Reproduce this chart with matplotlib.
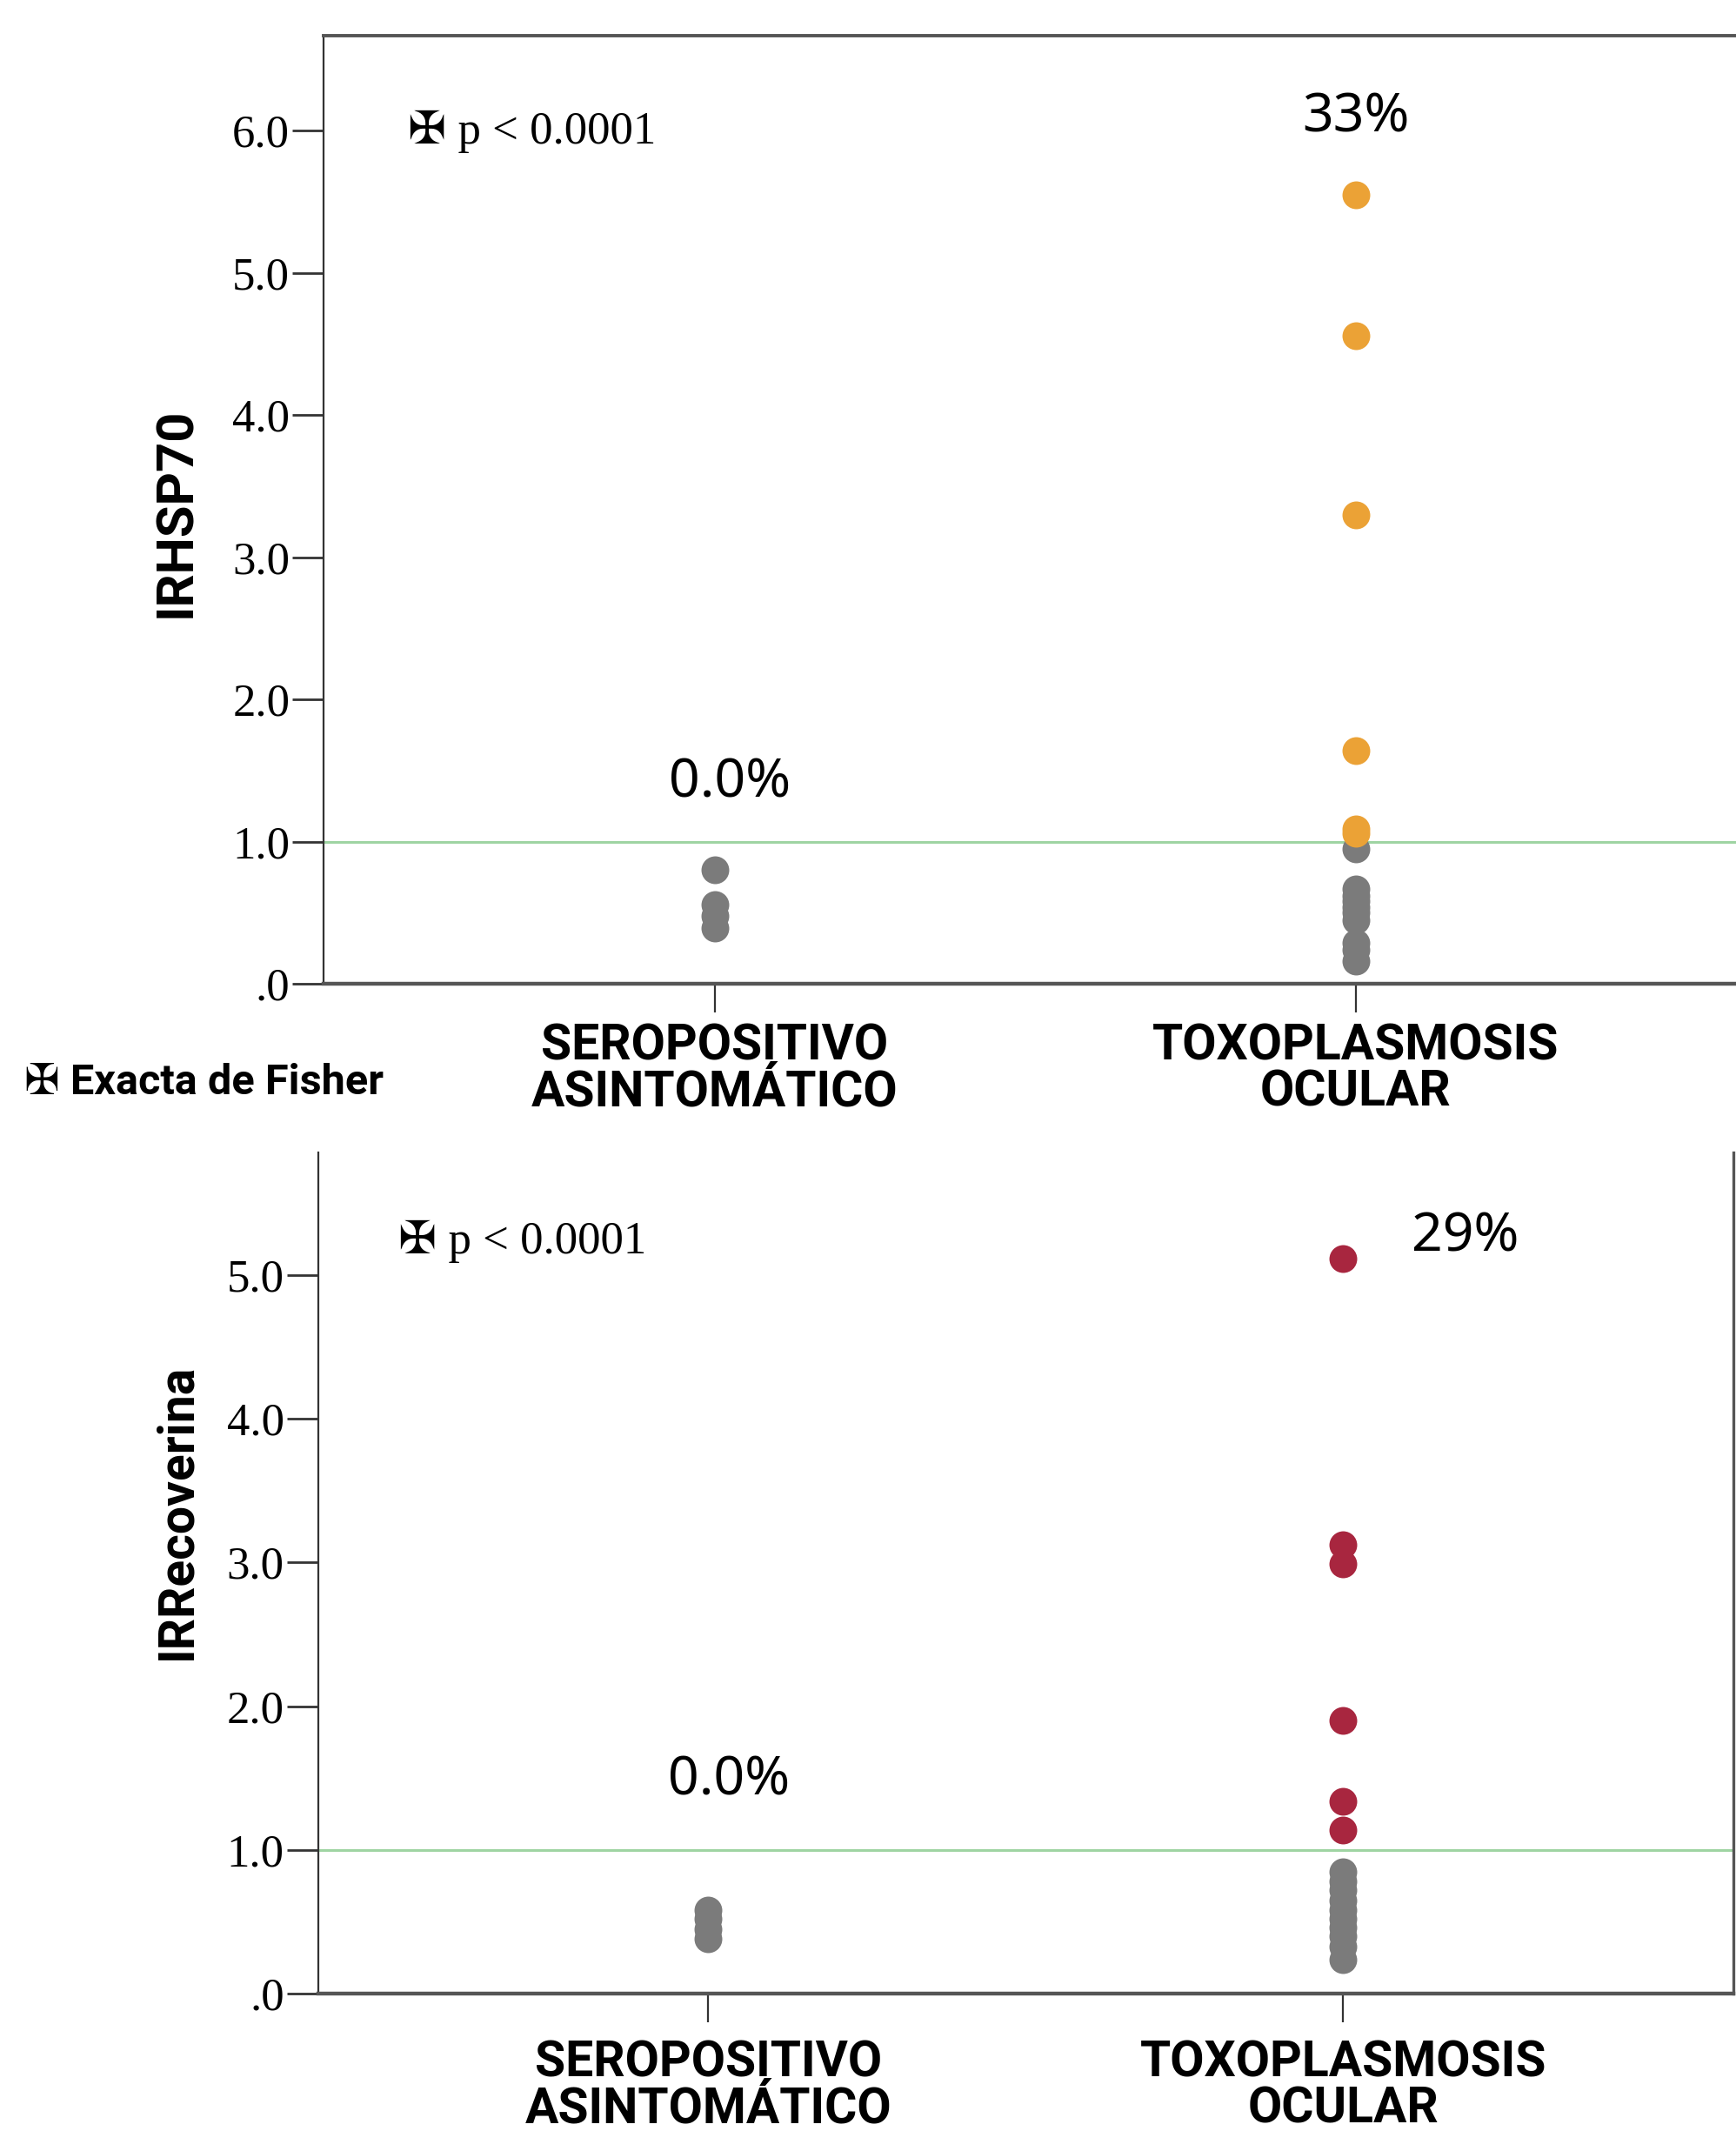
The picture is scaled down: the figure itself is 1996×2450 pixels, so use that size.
import numpy as np
import matplotlib
matplotlib.use("Agg")
import matplotlib.pyplot as plt

# ── data ──────────────────────────────────────────────────────────────────────
CATEGORIES = ["SEROPOSITIVO\nASINTOMÁTICO", "TOXOPLASMOSIS\nOCULAR"]

# IRHSP70
hsp_sero_gray  = [0.80, 0.56, 0.48, 0.39]
hsp_toxo_gray  = [0.95, 0.67, 0.62, 0.58, 0.54, 0.50, 0.45, 0.29, 0.24, 0.16]
hsp_toxo_pos   = [5.55, 4.56, 3.30, 1.64, 1.09, 1.06]
hsp_pct        = ["0.0%", "33%"]

# IRRecoverina
rec_sero_gray  = [0.58, 0.52, 0.45, 0.38]
rec_toxo_gray  = [0.85, 0.78, 0.72, 0.65, 0.58, 0.52, 0.46, 0.40, 0.33, 0.24]
rec_toxo_pos   = [5.11, 3.12, 2.99, 1.90, 1.34, 1.14]
rec_pct        = ["0.0%", "29%"]

Y_TICKS_HSP = [0, 1, 2, 3, 4, 5, 6]
Y_TICKS_REC = [0, 1, 2, 3, 4, 5]
Y_TICKLABELS = [".0", "1.0", "2.0", "3.0", "4.0", "5.0", "6.0"]
CUTOFF = 1.0

GRAY   = "#7b7b7b"
ORANGE = "#eba236"
RED    = "#a8263f"
GREEN  = "#9fd4a3"

SERIF = ["Liberation Serif", "DejaVu Sans"]
BOLD  = ["Roboto", "DejaVu Sans"]
PCT   = ["Noto Sans", "DejaVu Sans"]

# ── layout ────────────────────────────────────────────────────────────────────
fig = plt.figure(figsize=(19.96, 24.5), dpi=100)

ax1 = fig.add_axes([0.1864, 0.5383, 1.0 - 0.1864, 0.9834 - 0.5383])
ax2 = fig.add_axes([0.1832, 0.0644, 0.9984 - 0.1832, 0.4592 - 0.0644])


def style_axis(ax, yticks, ylim, xlim, xpad):
    ax.set_xlim(*xlim)
    ax.set_ylim(*ylim)
    ax.set_yticks(yticks)
    ax.set_yticklabels(Y_TICKLABELS[:len(yticks)], family=SERIF, fontsize=38)
    ax.set_xticks([0, 1])
    ax.set_xticklabels(CATEGORIES, family=BOLD, fontweight="bold",
                       fontsize=41, linespacing=0.95)
    ax.tick_params(axis="y", length=26, width=2.0, color="#333333", pad=2)
    ax.tick_params(axis="x", length=24, width=1.6, color="#333333", pad=xpad)
    ax.spines["left"].set_linewidth(1.6)
    ax.spines["left"].set_color("#333333")
    ax.spines["bottom"].set_linewidth(3.2)
    ax.spines["bottom"].set_color("#555555")
    ax.axhline(CUTOFF, color=GREEN, linewidth=2.2, zorder=1)


def dots(ax, x, vals, color):
    ax.plot([x] * len(vals), vals, "o", ms=23, color=color,
            markeredgewidth=0, zorder=3)


# top panel
style_axis(ax1, Y_TICKS_HSP, (0, 6.67), (-0.611, 1.594), 8)
ax1.spines["right"].set_visible(False)
ax1.spines["top"].set_linewidth(2.8)
ax1.spines["top"].set_color("#555555")
dots(ax1, 0, hsp_sero_gray, GRAY)
dots(ax1, 1, hsp_toxo_gray, GRAY)
dots(ax1, 1, hsp_toxo_pos, ORANGE)
ax1.text(0.023, 1.41, hsp_pct[0], ha="center", va="center", family=PCT, fontsize=45)
ax1.text(1.0, 6.09, hsp_pct[1], ha="center", va="center", family=PCT, fontsize=45)
ax1.text(-0.48, 5.99, "✠ p < 0.0001", ha="left", va="center", family=SERIF, fontsize=38)

# bottom panel (its category labels run off the lower edge, as in the source)
style_axis(ax2, Y_TICKS_REC, (0, 5.85), (-0.615, 1.615), 14)
ax2.spines["top"].set_visible(False)
ax2.spines["right"].set_linewidth(2.4)
ax2.spines["right"].set_color("#555555")
dots(ax2, 0, rec_sero_gray, GRAY)
dots(ax2, 1, rec_toxo_gray, GRAY)
dots(ax2, 1, rec_toxo_pos, RED)
ax2.text(0.032, 1.48, rec_pct[0], ha="center", va="center", family=PCT, fontsize=45)
ax2.text(1.193, 5.26, rec_pct[1], ha="center", va="center", family=PCT, fontsize=45)
ax2.text(-0.488, 5.23, "✠ p < 0.0001", ha="left", va="center", family=SERIF, fontsize=38)

# labels
fig.text(0.102, 0.7596, "IRHSP70", rotation=90, ha="center", va="center",
         family=BOLD, fontweight="bold", fontsize=43)
fig.text(0.102, 0.2908, "IRRecoverina", rotation=90, ha="center", va="center",
         family=BOLD, fontweight="bold", fontsize=41)
fig.text(0.014, 0.4917, "✠ Exacta de Fisher", ha="left", va="center",
         family=BOLD, fontweight="bold", fontsize=35)

fig.savefig("out.png", dpi=100)
